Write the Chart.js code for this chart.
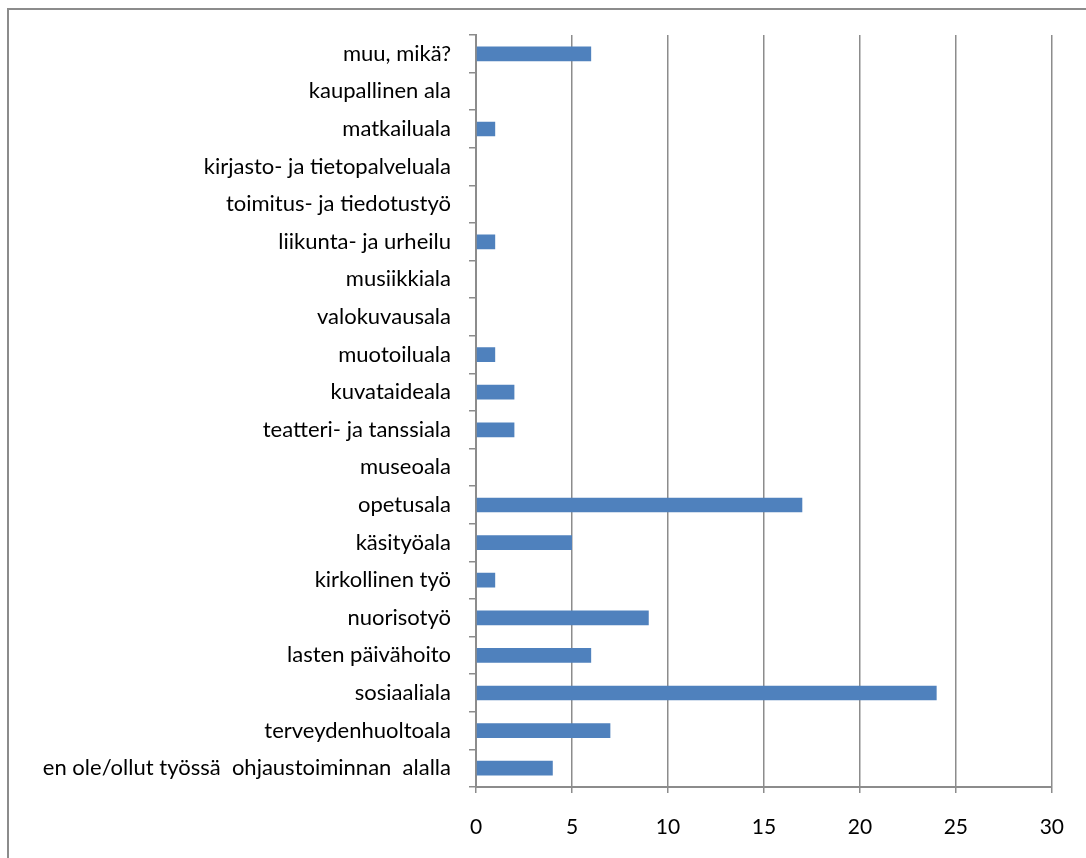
<!DOCTYPE html>
<html>
<head>
<meta charset="utf-8">
<script src="https://cdn.jsdelivr.net/npm/chart.js@4/dist/chart.umd.min.js"></script>
<style>
  body { margin: 0; background: #fff; }
  .frame { position: absolute; left: 7px; top: 8px; width: 1100px; height: 900px;
           border-left: 2px solid #8c8c8c; border-top: 2px solid #8c8c8c; }
  .wrap { position: absolute; left: 0; top: 0; width: 1086px; height: 858px; }
</style>
</head>
<body>
<div class="frame"></div>
<div class="wrap"><canvas id="chart"></canvas></div>
<script>
const categories = [
  "muu, mikä?",
  "kaupallinen ala",
  "matkailuala",
  "kirjasto- ja tietopalveluala",
  "toimitus- ja tiedotustyö",
  "liikunta- ja urheilu",
  "musiikkiala",
  "valokuvausala",
  "muotoiluala",
  "kuvataideala",
  "teatteri- ja tanssiala",
  "museoala",
  "opetusala",
  "käsityöala",
  "kirkollinen työ",
  "nuorisotyö",
  "lasten päivähoito",
  "sosiaaliala",
  "terveydenhuoltoala",
  "en ole/ollut työssä  ohjaustoiminnan  alalla"
]
const counts = [6, 0, 1, 0, 0, 1, 0, 0, 1, 2, 2, 0, 17, 5, 1, 9, 6, 24, 7, 4]
const xTicks = [0, 5, 10, 15, 20, 25, 30]

const gray = "#8c8c8c"
const family = "Lato, 'Liberation Sans', sans-serif"

new Chart(document.getElementById("chart"), {
  type: "bar",
  data: {
    labels: categories,
    datasets: [{
      data: counts,
      backgroundColor: "#4f81bd",
      categoryPercentage: 1,
      barPercentage: 0.39
    }]
  },
  options: {
    indexAxis: "y",
    responsive: true,
    maintainAspectRatio: false,
    animation: false,
    layout: { padding: { top: 35, right: 34, left: 0, bottom: 0 } },
    plugins: { legend: { display: false }, tooltip: { enabled: false } },
    scales: {
      x: {
        min: 0,
        max: 30,
        afterBuildTicks: (axis) => { axis.ticks = xTicks.map(v => ({ value: v })) },
        afterFit: (axis) => { axis.height = 71 },
        grid: { color: gray, lineWidth: 1.5, tickLength: 6 },
        border: { color: gray, width: 2 },
        ticks: { color: "#000", font: { family: family, size: 21 }, padding: 22 }
      },
      y: {
        afterFit: (axis) => { axis.width = 476 },
        grid: { drawOnChartArea: false, color: gray, lineWidth: 1.5, tickLength: 7, offset: true },
        border: { color: gray, width: 2 },
        ticks: { color: "#000", font: { family: family, size: 22 }, padding: 18, autoSkip: false }
      }
    }
  }
})
</script>
</body>
</html>
